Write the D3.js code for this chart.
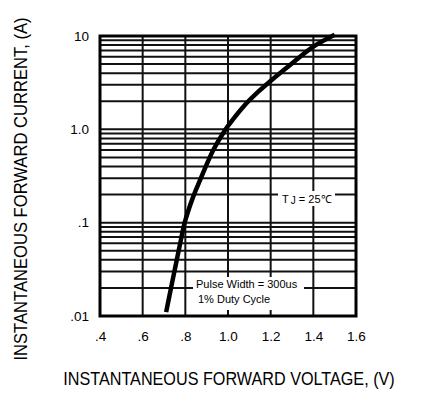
<!DOCTYPE html>
<html>
<head>
<meta charset="utf-8">
<script src="https://cdn.jsdelivr.net/npm/d3@7"></script>
<style>
  body { margin: 0; background: #fff; }
  svg { display: block; font-family: "Liberation Sans", Arial, sans-serif; }
</style>
</head>
<body>
<svg id="chart" width="424" height="393"></svg>
<script>
// forward voltage (V) vs instantaneous forward current (A)
const voltage = [0.71, 0.733, 0.760, 0.779, 0.797, 0.837, 0.869, 0.931, 0.986, 1.009, 1.072, 1.142, 1.205, 1.291, 1.40, 1.50];
const current = [0.011, 0.02, 0.04, 0.065, 0.1, 0.19, 0.286, 0.60, 0.98, 1.16, 1.75, 2.53, 3.38, 4.89, 7.68, 10.3];

const xTicks = [0.4, 0.6, 0.8, 1.0, 1.2, 1.4, 1.6];
const xTickLabels = [".4", ".6", ".8", "1.0", "1.2", "1.4", "1.6"];
const yTicks = [10, 1, 0.1, 0.01];
const yTickLabels = ["10", "1.0", ".1", ".01"];
const decades = [0.01, 0.1, 1];
const minorSteps = [2, 3, 4, 5, 6, 7, 8, 9];

const svg = d3.select("#chart");
const margin = { left: 100, right: 68, top: 36, bottom: 77 };
const W = 424, H = 393;

const x = d3.scaleLinear().domain([0.4, 1.6]).range([margin.left, W - margin.right]);
const y = d3.scaleLog().domain([0.01, 10]).range([H - margin.bottom, margin.top]);

// horizontal grid: every minor step of each decade
const hLines = [];
decades.forEach((d) => minorSteps.forEach((m) => hLines.push(d * m)));
hLines.push(0.1, 1);

const grid = svg.append("g").attr("stroke", "#111").attr("stroke-width", 2);
grid.selectAll("line.h")
  .data(hLines)
  .join("line")
  .attr("class", "h")
  .attr("x1", x(0.4)).attr("x2", x(1.6))
  .attr("y1", (d) => y(d)).attr("y2", (d) => y(d));
grid.selectAll("line.v")
  .data(xTicks.slice(1, -1))
  .join("line")
  .attr("class", "v")
  .attr("y1", y(0.01)).attr("y2", y(10))
  .attr("x1", (d) => x(d)).attr("x2", (d) => x(d));

// frame
svg.append("rect")
  .attr("x", x(0.4)).attr("y", y(10))
  .attr("width", x(1.6) - x(0.4)).attr("height", y(0.01) - y(10))
  .attr("fill", "none").attr("stroke", "#000").attr("stroke-width", 3);

// white boxes behind annotations
svg.append("rect").attr("x", 278).attr("y", 191).attr("width", 57).attr("height", 15).attr("fill", "#fff");
svg.append("rect").attr("x", 193).attr("y", 277).attr("width", 111).attr("height", 33).attr("fill", "#fff");

// curve
const pts = voltage.map((v, i) => [v, current[i]]);
svg.append("path")
  .datum(pts)
  .attr("fill", "none")
  .attr("stroke", "#000")
  .attr("stroke-width", 4.5)
  .attr("d", d3.line().x((d) => x(d[0])).y((d) => y(d[1])).curve(d3.curveCatmullRom.alpha(0.5)));

// axes (labels only)
const xAxis = svg.append("g")
  .attr("transform", `translate(0,${y(0.01) + 12})`)
  .call(d3.axisBottom(x).tickValues(xTicks).tickFormat((d, i) => xTickLabels[i]).tickSize(0));
xAxis.select(".domain").remove();
xAxis.selectAll("text").attr("font-size", 13.5).attr("font-family", "Liberation Sans, Arial, sans-serif").attr("fill", "#000");

const yAxis = svg.append("g")
  .attr("transform", `translate(${x(0.4) - 8},0)`)
  .call(d3.axisLeft(y).tickValues(yTicks).tickFormat((d, i) => yTickLabels[i]).tickSize(0));
yAxis.select(".domain").remove();
yAxis.selectAll("text").attr("font-size", 13.5).attr("font-family", "Liberation Sans, Arial, sans-serif").attr("fill", "#000");

// annotations
const tj = svg.append("text").attr("x", 282).attr("y", 203).attr("font-size", 11).attr("fill", "#000");
tj.append("tspan").text("T");
tj.append("tspan").attr("dx", 2).attr("dy", 1).attr("font-size", 10).text("J");
tj.append("tspan").attr("dy", -1).text(" = 25℃");

svg.append("text").attr("x", 196).attr("y", 288).attr("font-size", 11).attr("fill", "#000").text("Pulse Width = 300us");
svg.append("text").attr("x", 198).attr("y", 303).attr("font-size", 11).attr("fill", "#000").text("1% Duty Cycle");

// axis titles (glyphs a bit taller than wide, like the scanned original)
svg.append("text")
  .attr("transform", "translate(229,385) scale(1,1.15)")
  .attr("text-anchor", "middle")
  .attr("font-size", 16.2)
  .attr("fill", "#000")
  .text("INSTANTANEOUS FORWARD VOLTAGE, (V)");

svg.append("text")
  .attr("transform", "translate(27,189) rotate(-90) scale(1,1.15)")
  .attr("text-anchor", "middle")
  .attr("font-size", 16.6)
  .attr("fill", "#000")
  .text("INSTANTANEOUS FORWARD CURRENT, (A)");
</script>
</body>
</html>
